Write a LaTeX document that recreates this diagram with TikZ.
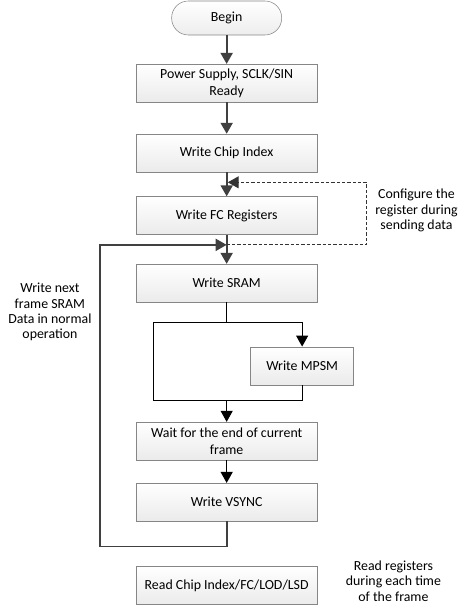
\documentclass[tikz,border=0pt]{standalone}
\usepackage{fontspec}
\setmainfont{Carlito}
\usetikzlibrary{positioning, calc, arrows.meta}

\begin{document}
\begin{tikzpicture}[%
    font=\fontsize{10.4}{12.5}\selectfont,
    >={Triangle[length=8.25pt, width=9pt]},
    node distance=20pt,
    % Colors
    boxline/.style={draw=gray!95},
    flowline/.style={draw=black!75, line width=1.4pt},
    thinline/.style={draw=black, line width=0.8pt},
    % Shapes
    startstop/.style={boxline, rectangle, rounded corners=12.5pt, top color=white, bottom color=gray!14, minimum width=82.5pt, minimum height=25.5pt, align=center},
    stepbox/.style={boxline, rectangle, top color=white, bottom color=gray!16, minimum width=135.75pt, minimum height=28.5pt, align=center, inner sep=2pt},
    note/.style={align=center, font=\fontsize{10.4}{11.5}\selectfont}
]
\useasboundingbox (0,0) rectangle (343.5pt,-456.75pt);

% --- 1. Main flow ---
\node[startstop] (begin) at (170pt,-13.5pt) {Begin};
\node[stepbox, below=21.5pt of begin] (power) {Power Supply, SCLK/SIN\\Ready};
\node[stepbox, below=23.5pt of power] (chip) {Write Chip Index};
\node[stepbox, below=18pt of chip] (fc) {Write FC Registers};
\node[stepbox, below=21.75pt of fc] (sram) {Write SRAM};
\node[stepbox, below=89.6pt of sram] (wait) {Wait for the end of current\\frame};
\node[stepbox, below=16.9pt of wait] (vsync) {Write VSYNC};
\node[stepbox, below=33.75pt of vsync] (readidx) {Read Chip Index/FC/LOD/LSD};

% Connections
\draw[flowline, ->] (begin) -- (power);
\draw[flowline, ->] (power) -- (chip);
\draw[flowline, ->] (chip) -- (fc);
\draw[flowline, ->] (fc) -- (sram);

% --- 2. Optional MPSM branch ---
\node[stepbox, minimum width=77.25pt] (mpsm) at ($(sram.south)+(56.6pt,-47.6pt)$) {Write MPSM};
\coordinate (split) at ($(sram.south)+(0,-15pt)$);
\coordinate (splitL) at ($(split)+(-54.75pt,0)$);
\coordinate (join) at ($(wait.north)+(0,16.1pt)$);

\draw[thinline] (sram) -- (split);
\draw[thinline, ->] (split) -| (mpsm);
\draw[thinline] (split) -- (splitL) |- (join);
\draw[thinline] (mpsm) |- (join);
\draw[thinline, ->] (join) -- (wait);
\draw[thinline, ->] (wait) -- (vsync);

% --- 3. Loops ---
\coordinate (fbin) at ($(fc.north)+(0,10.5pt)$);
\coordinate (fbout) at ($(fc.south)+(0,-7.5pt)$);
\coordinate (fbright) at ($(fbout)+(105pt,0)$);
\draw[draw=black!80, line width=0.9pt, dash pattern=on 2.5pt off 1.5pt, ->] (fbout) -- (fbright) |- ($(fbin)+(0.8pt,0)$);

\coordinate (loopB) at ($(vsync.south)+(0,-18.75pt)$);
\coordinate (loopL) at ($(fbout)+(-95.25pt,0)$);
\draw[flowline, ->] (vsync) -- (loopB) -| (loopL) -- (fbout);

% --- 4. Notes ---
\node[note] (cfgnote) at ($(fc.east)+(74.25pt,3.75pt)$) {Configure the\\register during\\sending data};
\node[note] (loopnote) at ($(sram.west)+(-64.5pt,-21.75pt)$) {Write next\\frame SRAM\\Data in normal\\operation};
\node[note] (readnote) at ($(readidx.east)+(57pt,3.4pt)$) {Read registers\\during each time\\of the frame};

\end{tikzpicture}
\end{document}
